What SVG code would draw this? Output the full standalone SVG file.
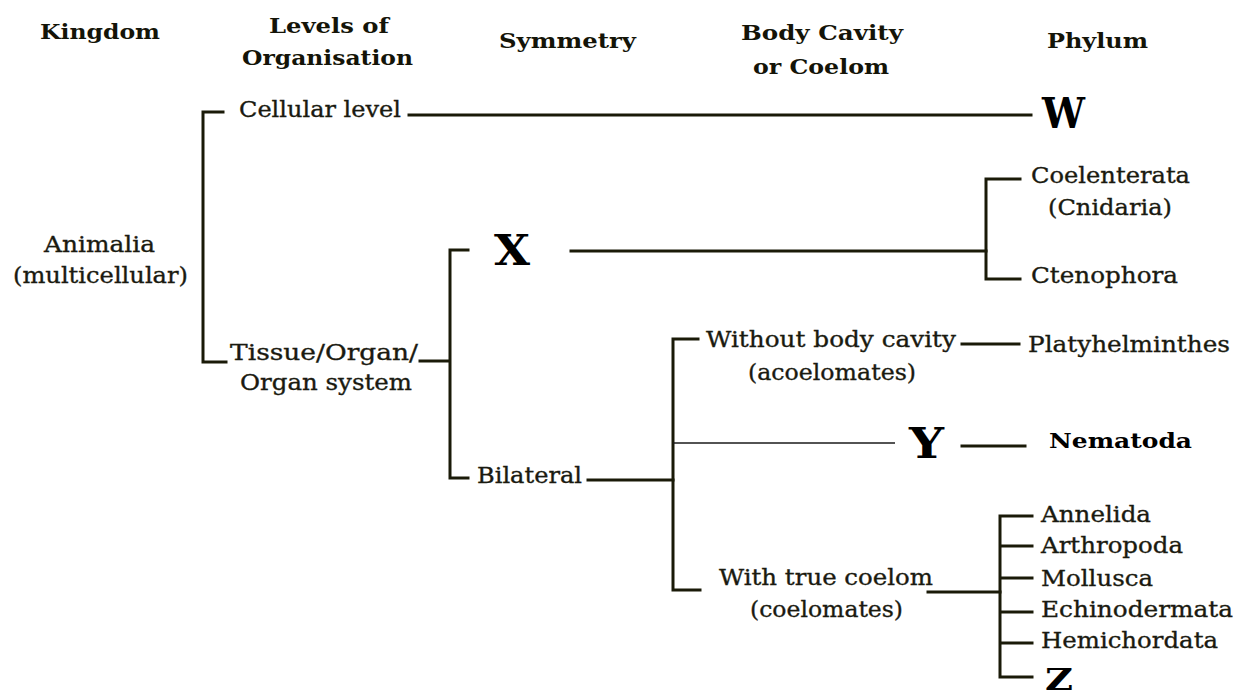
<svg xmlns="http://www.w3.org/2000/svg" width="1237" height="698" viewBox="0 0 1237 698">
<style>
.h{font-family:"DejaVu Serif","Liberation Serif",serif;font-weight:bold;font-size:21px;fill:#141408}
.t{font-family:"DejaVu Serif","Liberation Serif",serif;font-size:23px;fill:#1a1a10;stroke:#1a1a10;stroke-width:0.35}
.L{font-family:"DejaVu Serif","Liberation Serif",serif;font-weight:bold;font-size:42px;fill:#000}
.b{font-family:"DejaVu Serif","Liberation Serif",serif;font-weight:bold;font-size:21px;fill:#000}
.c{fill:none;stroke:#1a1a08;stroke-width:3;stroke-linecap:square}
.thin{fill:none;stroke:#1a1a1a;stroke-width:1.6}
</style>
<rect width="1237" height="698" fill="#fff"/>
<g id="headers">
<text class="h" x="40" y="39" textLength="120" lengthAdjust="spacingAndGlyphs">Kingdom</text>
<text class="h" x="269" y="33" textLength="120" lengthAdjust="spacingAndGlyphs">Levels of</text>
<text class="h" x="242" y="65" textLength="171" lengthAdjust="spacingAndGlyphs">Organisation</text>
<text class="h" x="499" y="48" textLength="137" lengthAdjust="spacingAndGlyphs">Symmetry</text>
<text class="h" x="741" y="40" textLength="162" lengthAdjust="spacingAndGlyphs">Body Cavity</text>
<text class="h" x="753" y="74" textLength="136" lengthAdjust="spacingAndGlyphs">or Coelom</text>
<text class="h" x="1047" y="48" textLength="101" lengthAdjust="spacingAndGlyphs">Phylum</text>
</g>
<g id="connectors">
<path class="c" d="M223,112 H203 V362 H226"/>
<path class="c" d="M409,115 H1031"/>
<path class="c" d="M420,361 H448"/>
<path class="c" d="M468,250 H450 V478 H468"/>
<path class="c" d="M571,251 H986"/>
<path class="c" d="M1020,179 H986 V279 H1020"/>
<path class="c" d="M588,480 H673"/>
<path class="c" d="M698,339 H673 V590 H700"/>
<path class="thin" d="M673,443 H895"/>
<path class="c" d="M962,344 H1019"/>
<path class="c" d="M962,446 H1025"/>
<path class="c" d="M928,592 H1000"/>
<path class="c" d="M1032,516 H1000 V677 H1032 M1000,546 H1032 M1000,578 H1032 M1000,612 H1032 M1000,643 H1032"/>
</g>
<g id="animalia"><text class="t" x="44" y="252" textLength="111" lengthAdjust="spacingAndGlyphs">Animalia</text><text class="t" x="13" y="283" textLength="175" lengthAdjust="spacingAndGlyphs">(multicellular)</text></g>
<g id="cellular"><text class="t" x="239" y="117" textLength="162" lengthAdjust="spacingAndGlyphs">Cellular level</text></g>
<g id="tissue"><text class="t" x="230" y="360" textLength="188" lengthAdjust="spacingAndGlyphs">Tissue/Organ/</text><text class="t" x="240" y="390" textLength="172" lengthAdjust="spacingAndGlyphs">Organ system</text></g>
<g id="W"><text class="L" x="1042" y="128" textLength="43" lengthAdjust="spacingAndGlyphs">W</text></g>
<g id="X"><text class="L" x="494" y="265" textLength="36" lengthAdjust="spacingAndGlyphs">X</text></g>
<g id="coelenterata"><text class="t" x="1031" y="183" textLength="159" lengthAdjust="spacingAndGlyphs">Coelenterata</text><text class="t" x="1048" y="215" textLength="124" lengthAdjust="spacingAndGlyphs">(Cnidaria)</text></g>
<g id="ctenophora"><text class="t" x="1031" y="283" textLength="147" lengthAdjust="spacingAndGlyphs">Ctenophora</text></g>
<g id="bilateral"><text class="t" x="477" y="483" textLength="105" lengthAdjust="spacingAndGlyphs">Bilateral</text></g>
<g id="without"><text class="t" x="706" y="347" textLength="250" lengthAdjust="spacingAndGlyphs">Without body cavity</text><text class="t" x="748" y="380" textLength="168" lengthAdjust="spacingAndGlyphs">(acoelomates)</text></g>
<g id="platyhelminthes"><text class="t" x="1028" y="352" textLength="202" lengthAdjust="spacingAndGlyphs">Platyhelminthes</text></g>
<g id="Y"><text class="L" x="909" y="458" textLength="35" lengthAdjust="spacingAndGlyphs">Y</text></g>
<g id="nematoda"><text class="b" x="1049" y="448" textLength="143" lengthAdjust="spacingAndGlyphs">Nematoda</text></g>
<g id="withtrue"><text class="t" x="719" y="585" textLength="214" lengthAdjust="spacingAndGlyphs">With true coelom</text><text class="t" x="750" y="617" textLength="153" lengthAdjust="spacingAndGlyphs">(coelomates)</text></g>
<g id="annelida"><text class="t" x="1041" y="522" textLength="110" lengthAdjust="spacingAndGlyphs">Annelida</text></g>
<g id="arthropoda"><text class="t" x="1041" y="553" textLength="142" lengthAdjust="spacingAndGlyphs">Arthropoda</text></g>
<g id="mollusca"><text class="t" x="1041" y="586" textLength="112" lengthAdjust="spacingAndGlyphs">Mollusca</text></g>
<g id="echinodermata"><text class="t" x="1041" y="617" textLength="192" lengthAdjust="spacingAndGlyphs">Echinodermata</text></g>
<g id="hemichordata"><text class="t" x="1041" y="648" textLength="177" lengthAdjust="spacingAndGlyphs">Hemichordata</text></g>
<g id="Z"><text class="L" x="1045" y="690" style="font-size:30px" textLength="28" lengthAdjust="spacingAndGlyphs">Z</text></g>
</svg>
